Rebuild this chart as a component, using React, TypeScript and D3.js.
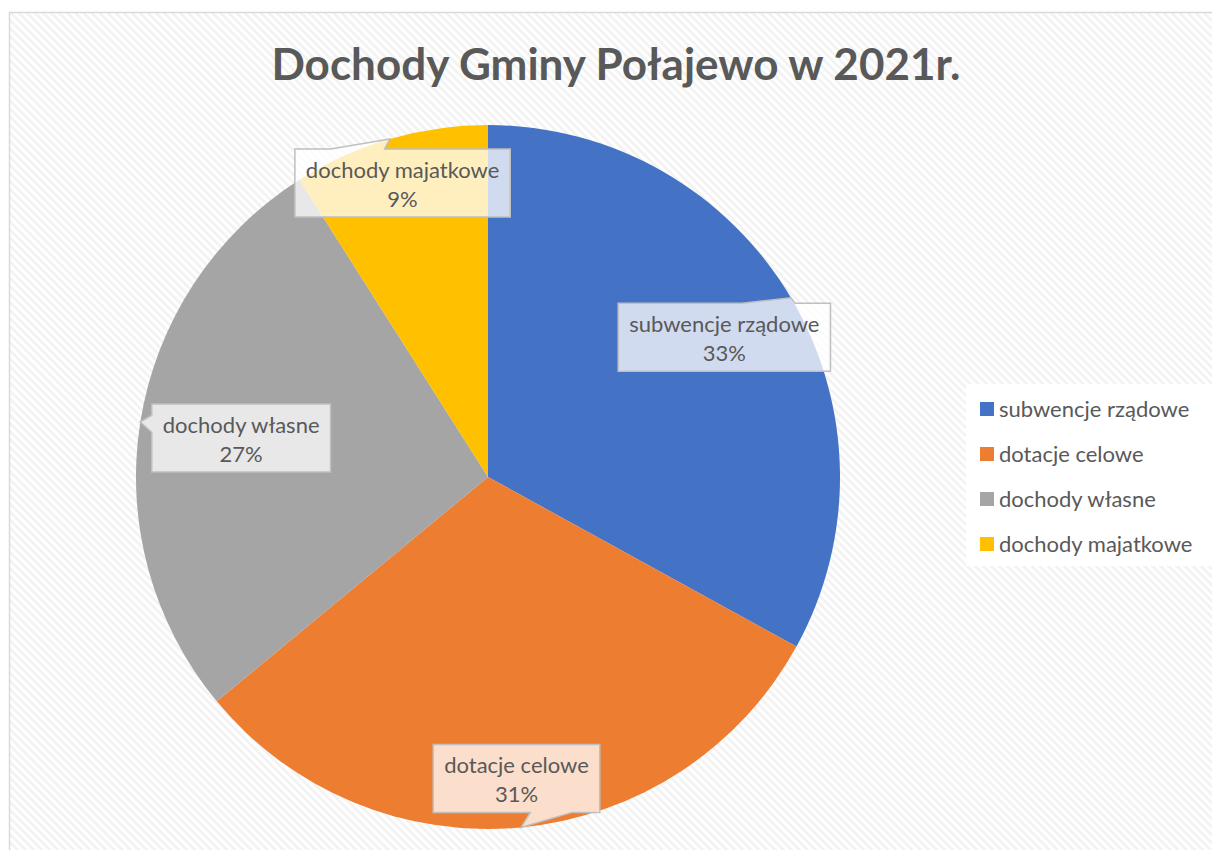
import React, { useRef, useEffect } from 'react';
import { select, pie, arc } from 'd3';

// data
const categories = ['subwencje rządowe', 'dotacje celowe', 'dochody własne', 'dochody majatkowe'];
const shares = [33, 31, 27, 9];
const colors = ['#4472C4', '#ED7D31', '#A5A5A5', '#FFC000'];
const labelRadius = [0.78, 0.86, 0.71, 0.87];

const TITLE = 'Dochody Gminy Połajewo w 2021r.';
const FONT = 'Lato, "Open Sans", sans-serif';

function App() {
  const svgRef = useRef(null);

  useEffect(() => {
    const width = 1212;
    const height = 850;
    const cx = 488;
    const cy = 477;
    const R = 352;

    const svg = select(svgRef.current).attr('width', width).attr('height', height);
    svg.selectAll('*').remove();

    // hatched chart area background
    const defs = svg.append('defs');
    const pat = defs
      .append('pattern')
      .attr('id', 'hatch')
      .attr('patternUnits', 'userSpaceOnUse')
      .attr('width', 6)
      .attr('height', 5.7)
      .attr('patternTransform', 'rotate(45)');
    pat.append('rect').attr('width', 6).attr('height', 5.7).attr('fill', '#ffffff');
    pat.append('rect').attr('width', 6).attr('height', 2.8).attr('fill', '#f3f3f3');

    svg
      .append('rect')
      .attr('x', 9.5)
      .attr('y', 12.5)
      .attr('width', 1300)
      .attr('height', 1000)
      .attr('fill', 'url(#hatch)')
      .attr('stroke', '#d9d9d9')
      .attr('stroke-width', 1.5);

    // title
    svg
      .append('text')
      .attr('x', 616)
      .attr('y', 80)
      .attr('text-anchor', 'middle')
      .attr('font-family', FONT)
      .attr('font-weight', 'bold')
      .attr('font-size', 44)
      .attr('fill', '#595959')
      .text(TITLE);

    // pie
    const arcs = pie().sort(null).value((d) => d)(shares);
    const arcGen = arc().innerRadius(0).outerRadius(R);
    const g = svg.append('g').attr('transform', `translate(${cx},${cy})`);
    g.selectAll('path.slice')
      .data(arcs)
      .join('path')
      .attr('class', 'slice')
      .attr('d', arcGen)
      .attr('fill', (d, i) => colors[i]);

    // callout labels
    const total = shares.reduce((a, b) => a + b, 0);
    const boxH = 68;
    arcs.forEach((a, i) => {
      const mid = (a.startAngle + a.endAngle) / 2;
      const lr = R * labelRadius[i];
      const bx = cx + lr * Math.sin(mid);
      const by = cy - lr * Math.cos(mid);
      const tipX = cx + R * Math.sin(mid);
      const tipY = cy - R * Math.cos(mid);

      const lg = svg.append('g');
      const path = lg.append('path');
      const t1 = lg
        .append('text')
        .attr('x', bx)
        .attr('y', by - 5)
        .attr('text-anchor', 'middle')
        .attr('font-family', FONT)
        .attr('font-size', 22)
        .attr('fill', '#595959')
        .text(categories[i]);
      lg.append('text')
        .attr('x', bx)
        .attr('y', by + 24)
        .attr('text-anchor', 'middle')
        .attr('font-family', FONT)
        .attr('font-size', 22)
        .attr('fill', '#595959')
        .text(`${Math.round((shares[i] / total) * 100)}%`);

      const tw = t1.node().getComputedTextLength();
      const w = tw + 22;
      const h = boxH;
      const l = bx - w / 2;
      const r = bx + w / 2;
      const t = by - h / 2;
      const b = by + h / 2;
      const dx = tipX - bx;
      const dy = tipY - by;
      const dq = (dx * h) / w;
      const xa = l + (w * (dx > 0 ? 7 : 2)) / 12;
      const xb = l + (w * (dx > 0 ? 10 : 5)) / 12;
      const ya = t + (h * (dy > 0 ? 7 : 2)) / 12;
      const yb = t + (h * (dy > 0 ? 10 : 5)) / 12;
      let d;
      if (Math.abs(dy) > Math.abs(dq)) {
        if (dy < 0) {
          d = `M${l},${t}L${xa},${t}L${tipX},${tipY}L${xb},${t}L${r},${t}L${r},${b}L${l},${b}Z`;
        } else {
          d = `M${l},${t}L${r},${t}L${r},${b}L${xb},${b}L${tipX},${tipY}L${xa},${b}L${l},${b}Z`;
        }
      } else if (dx < 0) {
        d = `M${l},${t}L${r},${t}L${r},${b}L${l},${b}L${l},${yb}L${tipX},${tipY}L${l},${ya}Z`;
      } else {
        d = `M${l},${t}L${r},${t}L${r},${ya}L${tipX},${tipY}L${r},${yb}L${r},${b}L${l},${b}Z`;
      }
      path
        .attr('d', d)
        .attr('fill', '#ffffff')
        .attr('fill-opacity', 0.75)
        .attr('stroke', '#bfbfbf')
        .attr('stroke-width', 1.5)
        .attr('stroke-linejoin', 'miter');
    });

    // legend
    const legend = svg.append('g');
    legend
      .append('rect')
      .attr('x', 966)
      .attr('y', 384)
      .attr('width', 246)
      .attr('height', 182)
      .attr('fill', '#ffffff');
    const rows = legend
      .selectAll('g.row')
      .data(categories)
      .join('g')
      .attr('class', 'row')
      .attr('transform', (d, i) => `translate(980,${409 + i * 45})`);
    rows
      .append('rect')
      .attr('x', 0)
      .attr('y', -7)
      .attr('width', 14)
      .attr('height', 14)
      .attr('fill', (d, i) => colors[i]);
    rows
      .append('text')
      .attr('x', 19)
      .attr('y', 7.5)
      .attr('font-family', FONT)
      .attr('font-size', 22)
      .attr('fill', '#595959')
      .text((d) => d);
  }, []);

  return <svg ref={svgRef} style={{ position: 'absolute', left: 0, top: 0 }} />;
}

export default App;
